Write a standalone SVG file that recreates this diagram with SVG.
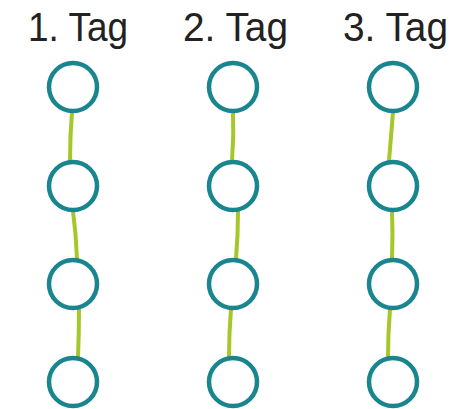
<svg xmlns="http://www.w3.org/2000/svg" width="457" height="409" viewBox="0 0 457 409">
<style>
.lbl{font-family:"Liberation Sans",Arial,sans-serif;font-size:41px;fill:#222;}
.n{fill:#fff;stroke:#19858f;stroke-width:4.5;}
.c{fill:none;stroke:#a6c72a;stroke-width:4;stroke-linecap:round;}
</style>
<rect width="457" height="409" fill="#fff"/>
<g id="labels">
<text class="lbl" x="28" y="41" textLength="100" lengthAdjust="spacingAndGlyphs">1. Tag</text>
<text class="lbl" x="183" y="41" textLength="105" lengthAdjust="spacingAndGlyphs">2. Tag</text>
<text class="lbl" x="343" y="41" textLength="105" lengthAdjust="spacingAndGlyphs">3. Tag</text>
</g>
<g id="connectors">
<path class="c" d="M72 112 Q70 136 70 161"/>
<path class="c" d="M73 211 Q76 234 77 259"/>
<path class="c" d="M79 309 Q79 334 78 357"/>
<path class="c" d="M233 112 Q234 136 232 161"/>
<path class="c" d="M238 211 Q238 236 236 259"/>
<path class="c" d="M231 309 Q229 334 229 357"/>
<path class="c" d="M393 112 Q391 136 389 161"/>
<path class="c" d="M392 211 Q393 234 392 259"/>
<path class="c" d="M390 309 Q388 334 388 357"/>
</g>
<g id="n1a"><circle class="n" cx="73" cy="87" r="24"/></g>
<g id="n1b"><circle class="n" cx="73" cy="186" r="24"/></g>
<g id="n1c"><circle class="n" cx="73" cy="284" r="24"/></g>
<g id="n1d"><circle class="n" cx="73" cy="382" r="24"/></g>
<g id="n2a"><circle class="n" cx="233" cy="87" r="24"/></g>
<g id="n2b"><circle class="n" cx="233" cy="186" r="24"/></g>
<g id="n2c"><circle class="n" cx="233" cy="284" r="24"/></g>
<g id="n2d"><circle class="n" cx="233" cy="382" r="24"/></g>
<g id="n3a"><circle class="n" cx="393" cy="87" r="24"/></g>
<g id="n3b"><circle class="n" cx="393" cy="186" r="24"/></g>
<g id="n3c"><circle class="n" cx="393" cy="284" r="24"/></g>
<g id="n3d"><circle class="n" cx="393" cy="382" r="24"/></g>
</svg>
